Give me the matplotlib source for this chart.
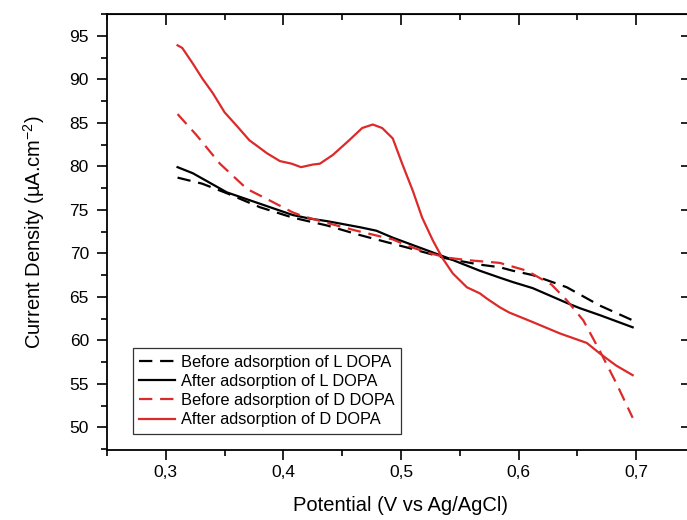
import matplotlib.pyplot as plt
from matplotlib.ticker import MultipleLocator, FuncFormatter

plt.rcParams['font.family'] = ['Liberation Sans', 'DejaVu Sans']
plt.rcParams['mathtext.fontset'] = 'custom'
plt.rcParams['mathtext.rm'] = 'Liberation Sans'

# values
before_l_x = [0.310, 0.331, 0.352, 0.380, 0.408, 0.437, 0.465, 0.493, 0.507, 0.539,
              0.567, 0.584, 0.595, 0.612, 0.641, 0.669, 0.697]
before_l_y = [78.7, 78.0, 76.9, 75.3, 74.1, 73.2, 72.1, 71.1, 70.6, 69.4,
              68.7, 68.4, 68.0, 67.5, 66.1, 64.0, 62.3]

after_l_x = [0.310, 0.323, 0.352, 0.380, 0.408, 0.422, 0.437, 0.465, 0.479, 0.493,
             0.513, 0.539, 0.567, 0.584, 0.595, 0.612, 0.641, 0.652, 0.669, 0.697]
after_l_y = [79.9, 79.2, 77.0, 75.7, 74.4, 74.0, 73.7, 73.0, 72.6, 71.8,
             70.8, 69.5, 68.0, 67.2, 66.7, 66.0, 64.3, 63.7, 62.9, 61.5]

before_d_x = [0.310, 0.326, 0.346, 0.369, 0.388, 0.408, 0.416, 0.437, 0.462, 0.493,
              0.507, 0.522, 0.539, 0.558, 0.584, 0.607, 0.628, 0.641, 0.655, 0.669,
              0.683, 0.697]
before_d_y = [86.0, 83.6, 80.3, 77.4, 76.1, 74.7, 74.3, 73.5, 72.6, 71.6,
              70.8, 70.1, 69.5, 69.2, 68.9, 68.0, 66.4, 64.6, 62.3, 58.8,
              55.1, 51.1]

after_d_x = [0.310, 0.314, 0.323, 0.331, 0.340, 0.350, 0.360, 0.371, 0.386, 0.397,
             0.407, 0.415, 0.425, 0.431, 0.442, 0.456, 0.467, 0.476, 0.484, 0.493,
             0.501, 0.510, 0.518, 0.527, 0.535, 0.544, 0.556, 0.567, 0.573, 0.584,
             0.592, 0.612, 0.635, 0.658, 0.669, 0.683, 0.697]
after_d_y = [93.9, 93.6, 91.8, 90.1, 88.4, 86.2, 84.7, 83.0, 81.5, 80.6,
             80.3, 79.9, 80.2, 80.3, 81.3, 83.0, 84.4, 84.8, 84.4, 83.2,
             80.3, 77.2, 74.1, 71.5, 69.5, 67.7, 66.1, 65.4, 64.8, 63.8,
             63.2, 62.1, 60.8, 59.7, 58.5, 57.1, 56.0]

labels = ['Before adsorption of L DOPA', 'After adsorption of L DOPA',
          'Before adsorption of D DOPA', 'After adsorption of D DOPA']

red = '#dc2a2a'

fig = plt.figure(figsize=(6.87, 5.2), dpi=100)
ax = fig.add_axes([107 / 687, 1 - 450 / 520, 588 / 687, 436 / 520])

ax.plot(before_l_x, before_l_y, color='black', lw=1.6, dashes=(6, 3.5), label=labels[0])
ax.plot(after_l_x, after_l_y, color='black', lw=1.6, label=labels[1])
ax.plot(before_d_x, before_d_y, color=red, lw=1.6, dashes=(6, 3.5), label=labels[2])
ax.plot(after_d_x, after_d_y, color=red, lw=1.6, label=labels[3])

ax.set_xlim(0.25, 0.75)
ax.set_ylim(47.4, 97.5)

ax.xaxis.set_major_locator(MultipleLocator(0.1))
ax.xaxis.set_minor_locator(MultipleLocator(0.05))
ax.yaxis.set_major_locator(MultipleLocator(5))
ax.yaxis.set_minor_locator(MultipleLocator(2.5))
ax.xaxis.set_major_formatter(FuncFormatter(lambda v, p: f'{v:.1f}'.replace('.', ',')))
ax.yaxis.set_major_formatter(FuncFormatter(lambda v, p: f'{v:.0f}'))

ax.tick_params(which='major', direction='out', length=7, width=1.2, labelsize=12.5)
ax.tick_params(axis='y', which='major', pad=6)
ax.tick_params(which='minor', direction='out', length=4, width=1.2)
for s in ax.spines.values():
    s.set_linewidth(1.3)

# inward ticks on top and right, like the original
top = ax.secondary_xaxis('top')
top.xaxis.set_major_locator(MultipleLocator(0.1))
top.xaxis.set_minor_locator(MultipleLocator(0.05))
top.tick_params(which='major', direction='in', length=8, width=1.2, labeltop=False)
top.tick_params(which='minor', direction='in', length=4, width=1.2)
right = ax.secondary_yaxis('right')
right.yaxis.set_major_locator(MultipleLocator(5))
right.yaxis.set_minor_locator(MultipleLocator(2.5))
right.tick_params(which='major', direction='in', length=10, width=1.2, labelright=False)
right.tick_params(which='minor', direction='in', length=5, width=1.2)

ax.set_xlabel('Potential (V vs Ag/AgCl)', fontsize=14.5, labelpad=12)
ax.set_ylabel(r'Current Density (µA.cm$^{\mathregular{-2}}$)', fontsize=14.5, labelpad=16)

leg = ax.legend(loc='lower left', bbox_to_anchor=(0.044, 0.037), borderaxespad=0,
                fontsize=11.8, frameon=True, fancybox=False, handlelength=2.2,
                handletextpad=0.35, labelspacing=0.25, borderpad=0.4)
leg.get_frame().set_edgecolor('black')
leg.get_frame().set_linewidth(0.9)

fig.savefig('out.png', dpi=100)
